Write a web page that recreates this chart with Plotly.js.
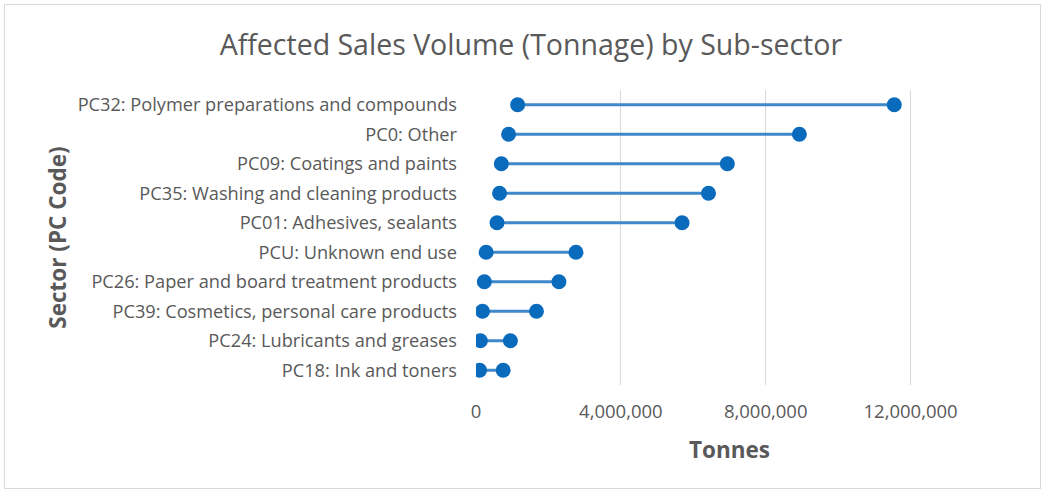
<!DOCTYPE html>
<html>
<head>
<meta charset="utf-8">
<script src="https://cdn.plot.ly/plotly-3.0.1.min.js"></script>
<style>
  html, body { margin: 0; padding: 0; background: #fff; }
  #wrap { position: relative; width: 1045px; height: 493px; }
  #chart { width: 1045px; height: 493px; }
  #frame { position: absolute; left: 4px; top: 4px; width: 1035px; height: 483px; border: 1px solid #d9d9d9; pointer-events: none; }
</style>
</head>
<body>
<div id="wrap"><div id="chart"></div><div id="frame"></div></div>
<script>
const categories = [
  "PC32: Polymer preparations and compounds",
  "PC0: Other",
  "PC09: Coatings and paints",
  "PC35: Washing and cleaning products",
  "PC01: Adhesives, sealants",
  "PCU: Unknown end use",
  "PC26: Paper and board treatment products",
  "PC39: Cosmetics, personal care products",
  "PC24: Lubricants and greases",
  "PC18: Ink and toners"
];
const lowValues  = [1150000, 900000, 700000, 650000, 580000, 280000, 230000, 180000, 120000, 100000];
const highValues = [11550000, 8930000, 6940000, 6420000, 5690000, 2760000, 2290000, 1670000, 950000, 750000];
const xTickVals = [0, 4000000, 8000000, 12000000];
const xTickText = ["0", "4,000,000", "8,000,000", "12,000,000"];

const blue = "#0a6bbd";
const lineX = [], lineY = [];
categories.forEach((c, i) => {
  lineX.push(lowValues[i], highValues[i], null);
  lineY.push(c, c, null);
});

const traces = [
  { type: "scatter", mode: "lines", x: lineX, y: lineY,
    line: { color: "#3f88c9", width: 3 }, hoverinfo: "skip", showlegend: false },
  { type: "scatter", mode: "markers", x: lowValues, y: categories,
    marker: { color: blue, size: 15 }, showlegend: false, name: "Low" },
  { type: "scatter", mode: "markers", x: highValues, y: categories,
    marker: { color: blue, size: 15 }, showlegend: false, name: "High" }
];

const layout = {
  width: 1045, height: 493,
  margin: { l: 476, r: 62, t: 90, b: 108 },
  paper_bgcolor: "#ffffff", plot_bgcolor: "#ffffff",
  font: { family: "Open Sans, sans-serif", color: "#595959" },
  title: {
    text: "Affected Sales Volume (Tonnage) by Sub-sector",
    font: { size: 28.5, color: "#595959", family: "Open Sans, sans-serif" },
    x: 0.508, xref: "container", xanchor: "center",
    y: 1 - 45 / 493, yref: "container", yanchor: "middle"
  },
  xaxis: {
    range: [0, 14000000],
    tickvals: xTickVals, ticktext: xTickText,
    showgrid: true, gridcolor: "#d9d9d9", gridwidth: 1,
    zeroline: false, showline: false, ticks: "",
    ticklabelstandoff: 13,
    tickfont: { size: 18.5, color: "#595959" },
    title: { text: "Tonnes", font: { size: 22.5, color: "#595959", family: "Open Sans, sans-serif", weight: "bold" }, standoff: 20 },
    fixedrange: true
  },
  yaxis: {
    type: "category",
    categoryorder: "array", categoryarray: categories,
    range: [9.5, -0.5],
    showgrid: false, zeroline: false, showline: false, ticks: "",
    ticklabelstandoff: 18,
    tickfont: { size: 18.2, color: "#595959" },
    title: { text: "Sector (PC Code)", font: { size: 22.5, color: "#595959", family: "Open Sans, sans-serif", weight: "bold" }, standoff: 4 },
    fixedrange: true
  },
  showlegend: false
};

Plotly.newPlot("chart", traces, layout, { displayModeBar: false, staticPlot: true });
</script>
</body>
</html>
